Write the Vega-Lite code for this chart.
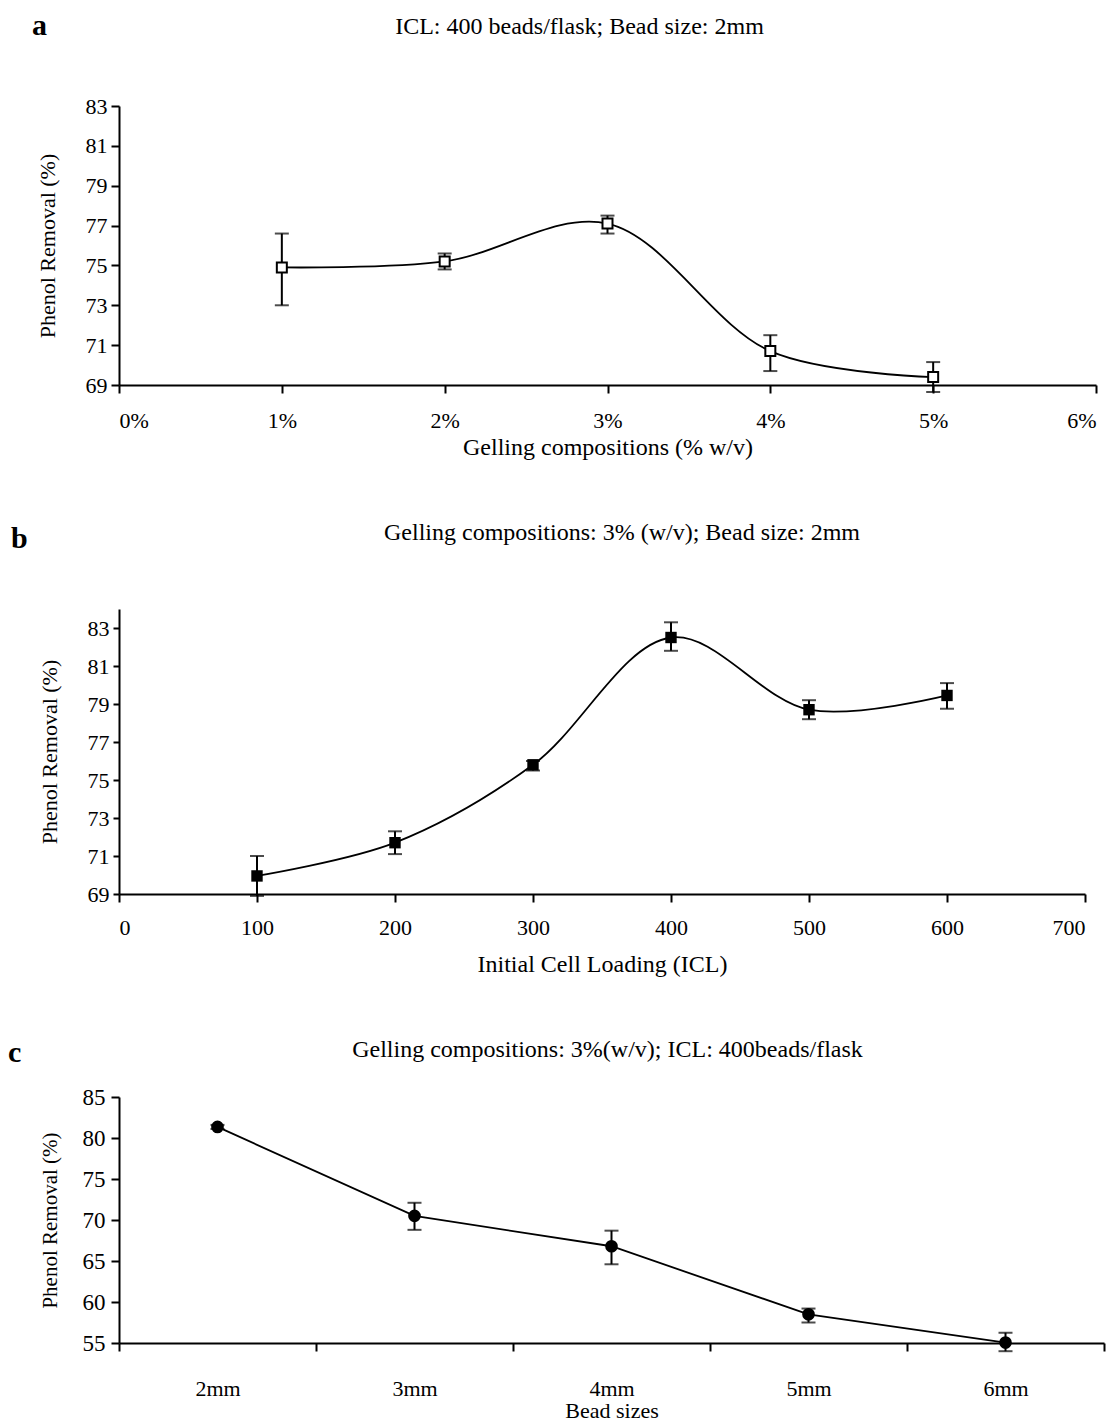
{
  "$schema": "https://vega.github.io/schema/vega-lite/v6.json",
  "background": "white",
  "padding": {"left": 8, "top": 11, "right": 5, "bottom": 0},
  "spacing": 62,
  "config": {
    "view": {"stroke": null},
    "font": "Liberation Serif",
    "axis": {
      "grid": false,
      "domainColor": "black",
      "domainWidth": 2,
      "tickColor": "black",
      "tickWidth": 2,
      "tickSize": 8,
      "labelColor": "black",
      "labelFont": "Liberation Serif",
      "labelFontSize": 22,
      "labelOverlap": false,
      "titleColor": "black",
      "titleFont": "Liberation Serif",
      "titleFontWeight": "normal",
      "titleFontSize": 24
    },
    "title": {"color": "black", "font": "Liberation Serif"}
  },
  "datasets": {
    "gel": [
      {"conc": 1, "v": 74.9, "lo": 73.0, "hi": 76.6},
      {"conc": 2, "v": 75.2, "lo": 74.8, "hi": 75.6},
      {"conc": 3, "v": 77.1, "lo": 76.6, "hi": 77.5},
      {"conc": 4, "v": 70.7, "lo": 69.7, "hi": 71.5},
      {"conc": 5, "v": 69.4, "lo": 68.65, "hi": 70.15}
    ],
    "icl": [
      {"icl": 100, "v": 69.95, "lo": 68.9, "hi": 71.0},
      {"icl": 200, "v": 71.7, "lo": 71.1, "hi": 72.3},
      {"icl": 300, "v": 75.8, "lo": 75.5, "hi": 76.0},
      {"icl": 400, "v": 82.5, "lo": 81.8, "hi": 83.3},
      {"icl": 500, "v": 78.7, "lo": 78.2, "hi": 79.2},
      {"icl": 600, "v": 79.45, "lo": 78.75, "hi": 80.1}
    ],
    "bead": [
      {"size": "2mm", "v": 81.35, "lo": 81.1, "hi": 81.6},
      {"size": "3mm", "v": 70.5, "lo": 68.8, "hi": 72.1},
      {"size": "4mm", "v": 66.8, "lo": 64.6, "hi": 68.7},
      {"size": "5mm", "v": 58.5, "lo": 57.5, "hi": 59.2},
      {"size": "6mm", "v": 55.05, "lo": 54.0, "hi": 56.25}
    ]
  },
  "vconcat": [
    {
      "title": {"text": "a", "anchor": "start", "frame": "bounds", "fontSize": 30, "fontWeight": "bold", "dy": 30, "dx": -4},
      "vconcat": [
        {
          "width": 977,
          "height": 279,
          "title": {"text": "ICL: 400 beads/flask; Bead size: 2mm", "fontSize": 24, "fontWeight": "normal", "offset": 56, "dx": -28},
          "data": {"name": "gel"},
          "encoding": {
            "x": {"field": "conc", "type": "quantitative", "scale": {"domain": [0, 6], "nice": false},
              "axis": {"values": [0, 1, 2, 3, 4, 5, 6], "tickCount": 20, "labelExpr": "datum.value + '%'", "labelPadding": 17, "titlePadding": 4, "title": "Gelling compositions (% w/v)"}}
          },
          "layer": [
            {"mark": {"type": "line", "interpolate": "catmull-rom", "color": "black", "strokeWidth": 1.8},
             "encoding": {"y": {"field": "v", "type": "quantitative", "scale": {"domain": [69, 83], "nice": false, "zero": false}, "title": "Phenol Removal (%)",
               "axis": {"values": [69, 71, 73, 75, 77, 79, 81, 83], "tickCount": 20, "format": "d", "titleFontSize": 22, "titlePadding": 26, "labelPadding": 4}}}},
            {"mark": {"type": "rule", "color": "black", "strokeWidth": 2},
             "encoding": {"y": {"field": "lo", "type": "quantitative", "scale": {"domain": [69, 83], "nice": false, "zero": false}, "title": "Phenol Removal (%)"}, "y2": {"field": "hi"}}},
            {"mark": {"type": "tick", "orient": "horizontal", "color": "black", "size": 14, "thickness": 2},
             "encoding": {"y": {"field": "lo", "type": "quantitative", "scale": {"domain": [69, 83], "nice": false, "zero": false}, "title": "Phenol Removal (%)"}}},
            {"mark": {"type": "tick", "orient": "horizontal", "color": "black", "size": 14, "thickness": 2},
             "encoding": {"y": {"field": "hi", "type": "quantitative", "scale": {"domain": [69, 83], "nice": false, "zero": false}, "title": "Phenol Removal (%)"}}},
            {"mark": {"type": "point", "shape": "square", "filled": true, "fill": "white", "stroke": "black", "strokeWidth": 2, "size": 100, "opacity": 1},
             "encoding": {"y": {"field": "v", "type": "quantitative", "scale": {"domain": [69, 83], "nice": false, "zero": false}, "title": "Phenol Removal (%)"}}}
          ]
        }
      ]
    },
    {
      "title": {"text": "b", "anchor": "start", "frame": "bounds", "fontSize": 30, "fontWeight": "bold", "dy": 37, "dx": -27},
      "vconcat": [
        {
          "width": 966,
          "height": 285,
          "title": {"text": "Gelling compositions: 3% (w/v); Bead size: 2mm", "fontSize": 24, "fontWeight": "normal", "offset": 64, "dx": 20},
          "data": {"name": "icl"},
          "encoding": {
            "x": {"field": "icl", "type": "quantitative", "scale": {"domain": [0, 700], "nice": false},
              "axis": {"values": [0, 100, 200, 300, 400, 500, 600, 700], "tickCount": 20, "labelPadding": 15, "titlePadding": 14, "title": "Initial Cell Loading (ICL)"}}
          },
          "layer": [
            {"mark": {"type": "line", "interpolate": "catmull-rom", "color": "black", "strokeWidth": 1.8},
             "encoding": {"y": {"field": "v", "type": "quantitative", "scale": {"domain": [69, 84], "nice": false, "zero": false}, "title": "Phenol Removal (%)",
               "axis": {"values": [69, 71, 73, 75, 77, 79, 81, 83], "tickCount": 20, "format": "d", "titleFontSize": 22, "titlePadding": 26, "labelPadding": 4, "tickSize": 6}}}},
            {"mark": {"type": "rule", "color": "black", "strokeWidth": 2},
             "encoding": {"y": {"field": "lo", "type": "quantitative", "scale": {"domain": [69, 84], "nice": false, "zero": false}, "title": "Phenol Removal (%)"}, "y2": {"field": "hi"}}},
            {"mark": {"type": "tick", "orient": "horizontal", "color": "black", "size": 14, "thickness": 2},
             "encoding": {"y": {"field": "lo", "type": "quantitative", "scale": {"domain": [69, 84], "nice": false, "zero": false}, "title": "Phenol Removal (%)"}}},
            {"mark": {"type": "tick", "orient": "horizontal", "color": "black", "size": 14, "thickness": 2},
             "encoding": {"y": {"field": "hi", "type": "quantitative", "scale": {"domain": [69, 84], "nice": false, "zero": false}, "title": "Phenol Removal (%)"}}},
            {"mark": {"type": "point", "shape": "square", "filled": true, "color": "black", "size": 130, "opacity": 1},
             "encoding": {"y": {"field": "v", "type": "quantitative", "scale": {"domain": [69, 84], "nice": false, "zero": false}, "title": "Phenol Removal (%)"}}}
          ]
        }
      ]
    },
    {
      "title": {"text": "c", "anchor": "start", "frame": "bounds", "fontSize": 30, "fontWeight": "bold", "dy": 34, "dx": -31},
      "vconcat": [
        {
          "width": 985,
          "height": 246,
          "title": {"text": "Gelling compositions: 3%(w/v); ICL: 400beads/flask", "fontSize": 24, "fontWeight": "normal", "offset": 24, "dx": -4},
          "data": {"name": "bead"},
          "encoding": {
            "x": {"field": "size", "type": "nominal", "sort": null, "scale": {"paddingInner": 0, "paddingOuter": 0},
              "axis": {"tickBand": "extent", "labelAngle": 0, "labelPadding": 27, "titlePadding": 1, "titleFontSize": 22, "title": "Bead sizes"}}
          },
          "layer": [
            {"mark": {"type": "line", "color": "black", "strokeWidth": 1.8},
             "encoding": {"y": {"field": "v", "type": "quantitative", "scale": {"domain": [55, 85], "nice": false, "zero": false}, "title": "Phenol Removal (%)",
               "axis": {"values": [55, 60, 65, 70, 75, 80, 85], "tickCount": 20, "format": "d", "titleFontSize": 21, "titlePadding": 22, "labelPadding": 6, "labelFontSize": 23}}}},
            {"mark": {"type": "rule", "color": "black", "strokeWidth": 2},
             "encoding": {"y": {"field": "lo", "type": "quantitative", "scale": {"domain": [55, 85], "nice": false, "zero": false}, "title": "Phenol Removal (%)"}, "y2": {"field": "hi"}}},
            {"mark": {"type": "tick", "orient": "horizontal", "color": "black", "size": 14, "thickness": 2},
             "encoding": {"y": {"field": "lo", "type": "quantitative", "scale": {"domain": [55, 85], "nice": false, "zero": false}, "title": "Phenol Removal (%)"}}},
            {"mark": {"type": "tick", "orient": "horizontal", "color": "black", "size": 14, "thickness": 2},
             "encoding": {"y": {"field": "hi", "type": "quantitative", "scale": {"domain": [55, 85], "nice": false, "zero": false}, "title": "Phenol Removal (%)"}}},
            {"mark": {"type": "point", "shape": "circle", "filled": true, "color": "black", "size": 160, "opacity": 1},
             "encoding": {"y": {"field": "v", "type": "quantitative", "scale": {"domain": [55, 85], "nice": false, "zero": false}, "title": "Phenol Removal (%)"}}}
          ]
        }
      ]
    }
  ]
}
